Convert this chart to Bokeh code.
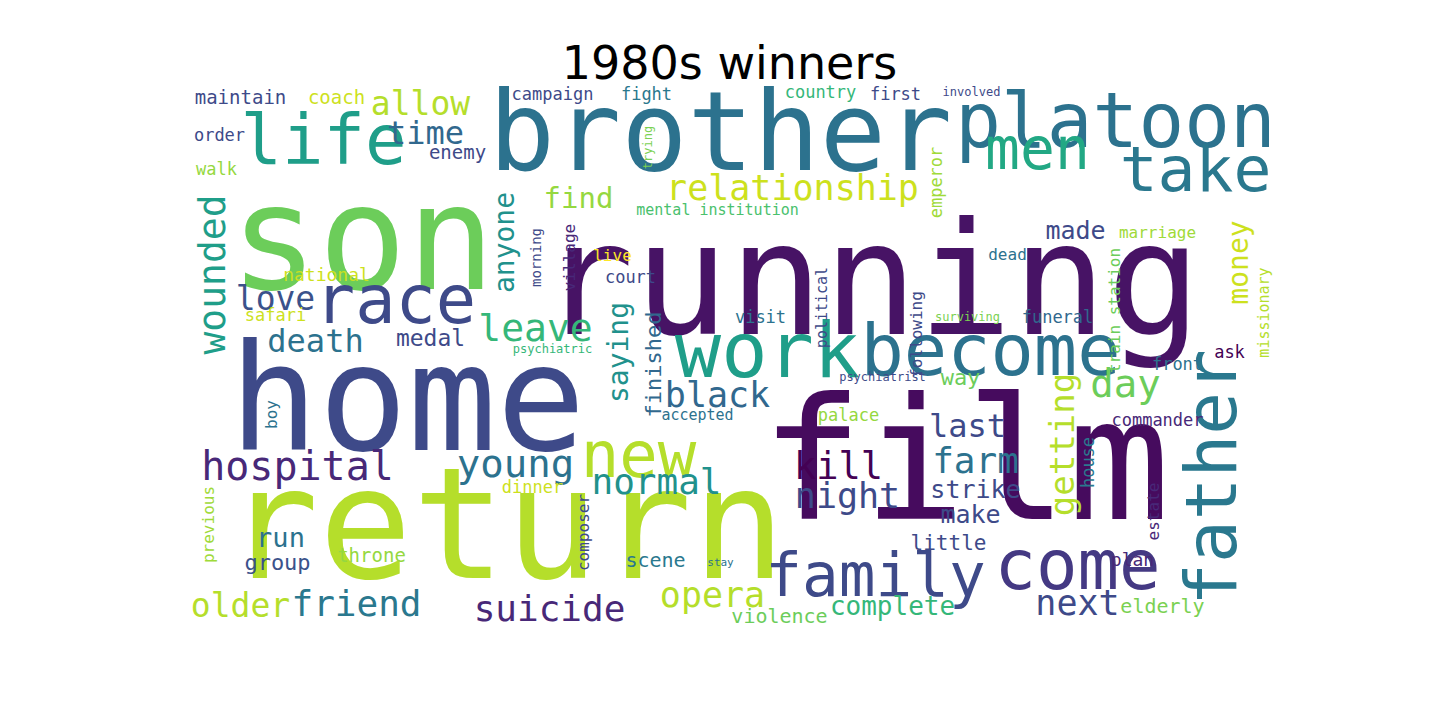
from math import pi
from bokeh.plotting import figure
from bokeh.models import ColumnDataSource, Range1d
from bokeh.core.properties import value
from bokeh.embed import file_html
from bokeh.resources import INLINE

# word, centre x, centre y, font px, colour, vertical
words = [
    ("running", 875, 275, 157, "#471365", 0),
    ("film", 970, 455, 170, "#460b5e", 0),
    ("son", 367, 235, 147, "#6ccd5a", 0),
    ("home", 412, 395, 148, "#3e4a89", 0),
    ("return", 510, 520, 155, "#b5de2b", 0),
    ("brother", 725, 130, 110, "#2c728e", 0),
    ("platoon", 1120, 120, 76, "#2c728e", 0),
    ("life", 328, 140, 69, "#1f9e89", 0),
    ("take", 1200, 170, 63, "#2a788e", 0),
    ("men", 1042, 150, 58, "#22a884", 0),
    ("race", 400, 300, 67, "#3e4a89", 0),
    ("work", 772, 350, 77, "#1f9e89", 0),
    ("become", 995, 350, 72, "#2c728e", 0),
    ("father", 1212, 485, 71, "#2a788e", 1),
    ("family", 880, 575, 61, "#3e4a89", 0),
    ("come", 1082, 565, 69, "#443983", 0),
    ("new", 643, 455, 64, "#b5de2b", 0),
    ("relationship", 797, 190, 35, "#cde11d", 0),
    ("allow", 425, 105, 33, "#b5de2b", 0),
    ("time", 430, 135, 32, "#31688e", 0),
    ("enemy", 462, 155, 19, "#3e4a89", 0),
    ("find", 583, 200, 29, "#95d840", 0),
    ("wounded", 215, 282, 38, "#1f9e89", 1),
    ("anyone", 508, 250, 28, "#21918c", 1),
    ("love", 280, 300, 33, "#3b528b", 0),
    ("leave", 540, 330, 38, "#35b779", 0),
    ("saying", 622, 360, 28, "#21918c", 1),
    ("death", 320, 343, 32, "#2c728e", 0),
    ("medal", 435, 340, 23, "#3e4a89", 0),
    ("finished", 657, 372, 22, "#31688e", 1),
    ("black", 722, 397, 35, "#31688e", 0),
    ("day", 1130, 385, 39, "#6ccd5a", 0),
    ("money", 1242, 270, 28, "#cde11d", 1),
    ("made", 1080, 233, 25, "#3e4a89", 0),
    ("marriage", 1162, 235, 16, "#a0da39", 0),
    ("mental institution", 722, 213, 15, "#4ac16d", 0),
    ("emperor", 940, 190, 17, "#a0da39", 1),
    ("trying", 652, 155, 12, "#7ad151", 1),
    ("village", 573, 265, 16, "#482878", 1),
    ("morning", 540, 265, 14, "#3e4a89", 1),
    ("political", 826, 315, 15, "#3e4a89", 1),
    ("following", 920, 342, 16, "#3e4a89", 1),
    ("dead", 1012, 257, 16, "#2c728e", 0),
    ("live", 617, 258, 16, "#fde725", 0),
    ("court", 635, 280, 17, "#3e4a89", 0),
    ("train station", 1118, 318, 16, "#6ccd5a", 1),
    ("missionary", 1268, 320, 15, "#b5de2b", 1),
    ("visit", 765, 320, 17, "#2c728e", 0),
    ("surviving", 972, 320, 12, "#7ad151", 0),
    ("funeral", 1062, 320, 17, "#31688e", 0),
    ("psychiatric", 557, 352, 12, "#35b779", 0),
    ("psychiatrist", 887, 380, 12, "#3e4a89", 0),
    ("front", 1182, 367, 17, "#2c728e", 0),
    ("ask", 1234, 355, 17, "#440154", 0),
    ("way", 965, 380, 22, "#6ccd5a", 0),
    ("last", 972, 428, 32, "#3e4a89", 0),
    ("getting", 1065, 452, 34, "#b5de2b", 1),
    ("house", 1092, 470, 17, "#2a788e", 1),
    ("commander", 1162, 423, 17, "#482878", 0),
    ("palace", 853, 418, 17, "#95d840", 0),
    ("accepted", 702, 418, 15, "#2c728e", 0),
    ("boy", 275, 422, 16, "#2c728e", 1),
    ("hospital", 302, 467, 40, "#482878", 0),
    ("young", 520, 465, 39, "#2c728e", 0),
    ("kill", 843, 468, 37, "#440154", 0),
    ("farm", 980, 462, 36, "#2c728e", 0),
    ("night", 852, 498, 35, "#3e4a89", 0),
    ("normal", 661, 483, 36, "#21918c", 0),
    ("strike", 980, 492, 25, "#3e4a89", 0),
    ("make", 975, 517, 25, "#3e4a89", 0),
    ("dinner", 537, 490, 17, "#cde11d", 0),
    ("composer", 587, 540, 16, "#3e4a89", 1),
    ("previous", 212, 532, 16, "#a0da39", 1),
    ("run", 285, 540, 27, "#2c728e", 0),
    ("group", 282, 565, 22, "#3b528b", 0),
    ("throne", 376, 558, 19, "#95d840", 0),
    ("scene", 660, 562, 20, "#2a788e", 0),
    ("stay", 725, 565, 11, "#2c728e", 0),
    ("little", 953, 545, 21, "#3e4a89", 0),
    ("estate", 1157, 519, 16, "#482878", 1),
    ("plan", 1137, 562, 18, "#482878", 0),
    ("older", 245, 607, 33, "#b5de2b", 0),
    ("friend", 361, 605, 36, "#2a788e", 0),
    ("suicide", 554, 610, 36, "#482878", 0),
    ("opera", 717, 597, 35, "#b5de2b", 0),
    ("complete", 897, 608, 26, "#35b779", 0),
    ("next", 1082, 605, 35, "#3e4a89", 0),
    ("elderly", 1167, 608, 20, "#7ad151", 0),
    ("violence", 784, 618, 20, "#6ccd5a", 0),
    ("maintain", 245, 100, 19, "#3e4a89", 0),
    ("coach", 341, 100, 19, "#cde11d", 0),
    ("order", 224, 138, 17, "#3e4a89", 0),
    ("walk", 221, 172, 17, "#95d840", 0),
    ("national", 331, 277, 18, "#cde11d", 0),
    ("safari", 280, 318, 17, "#cde11d", 0),
    ("campaign", 557, 97, 17, "#3e4a89", 0),
    ("fight", 651, 97, 17, "#2a788e", 0),
    ("country", 825, 95, 17, "#35b779", 0),
    ("first", 900, 97, 17, "#3e4a89", 0),
    ("involved", 976, 95, 12, "#3e4a89", 0),
]

text = [w[0] for w in words]
# middle baseline sits a bit above the visual centre; nudge down / right for rotated
xs = [w[1] + (0.05 * w[3] + 3 if w[5] else 3) for w in words]
ys = [w[2] + (0 if w[5] else 0.05 * w[3] + 4) for w in words]
sizes = [f"{w[3]}px" for w in words]
colors = [w[4] for w in words]
angles = [pi / 2 if w[5] else 0 for w in words]

source = ColumnDataSource(dict(x=xs, y=ys, text=text, size=sizes, color=colors, angle=angles))

p = figure(width=1424, height=704, output_backend="svg", toolbar_location=None,
           x_range=Range1d(8, 1432), y_range=Range1d(712, 8), min_border=0)
p.axis.visible = False
p.grid.visible = False
p.outline_line_color = None

p.text(x="x", y="y", text="text", source=source, text_font_size="size",
       text_color="color", angle="angle", text_align="center",
       text_baseline="middle", text_font=value("DejaVu Sans Mono"))

p.text(x=[737], y=[70], text=["1980s winners"], text_font_size="46px",
       text_color="black", text_align="center", text_baseline="middle",
       text_font=value("DejaVu Sans"))

open("out.html", "w").write(file_html(p, INLINE))
